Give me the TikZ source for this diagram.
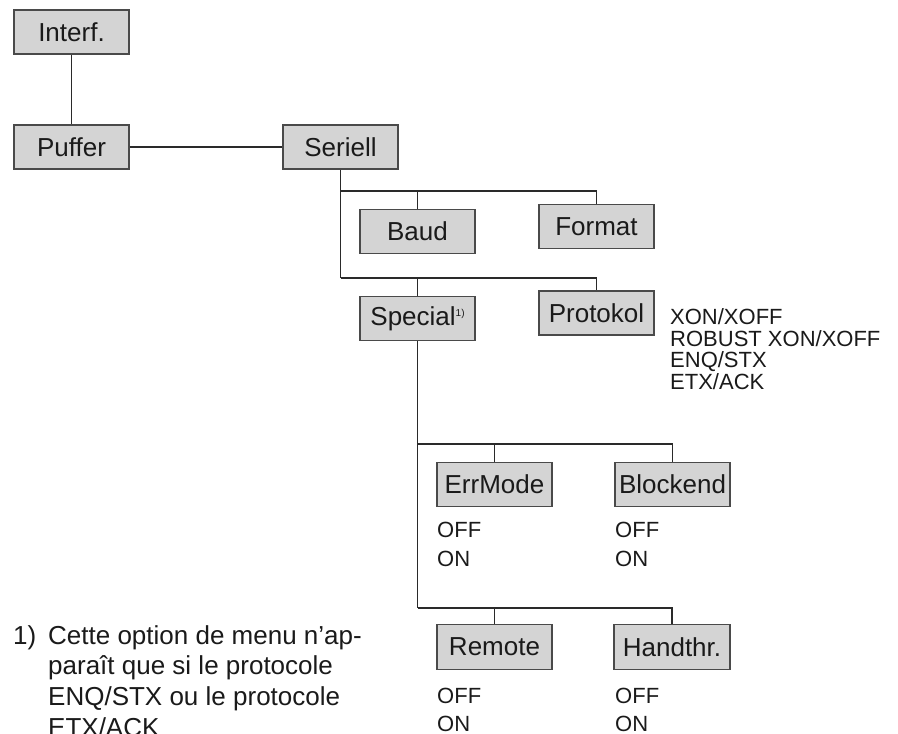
\documentclass[tikz,border=0pt]{standalone}
\usepackage{fontspec}
\setmainfont{Liberation Sans}
\definecolor{boxfill}{HTML}{D4D4D4}
\definecolor{boxline}{HTML}{4A4A4A}
\definecolor{wire}{HTML}{2A2A2A}
\definecolor{ink}{HTML}{1A1A1A}
\newcommand{\boxfont}{\fontsize{26}{30}\selectfont}
\newcommand{\optfont}{\fontsize{22}{24}\selectfont}
\newcommand{\notefont}{\fontsize{26}{30}\selectfont}
\begin{document}
\begin{tikzpicture}[x=1pt,y=-1pt,
  menubox/.style={draw=boxline, fill=boxfill, line width=1.2pt, minimum width=115pt, minimum height=44pt, inner sep=0pt, font=\boxfont, text=ink},
  opt/.style={anchor=base west, inner sep=0pt, font=\optfont, text=ink},
  note/.style={anchor=base west, inner sep=0pt, font=\notefont, text=ink},
  wirestyle/.style={draw=wire, line width=1.2pt}]
\useasboundingbox (0,0) rectangle (898,734);
\clip (0,0) rectangle (898,734);
% boxes
\node[menubox] (interf) at (71.5,32) {Interf.};
\node[menubox] (puffer) at (71.5,147) {Puffer};
\node[menubox] (seriell) at (340.5,147) {Seriell};
\node[menubox] (baud) at (417.5,231.5) {Baud};
\node[menubox] (format) at (596.5,226.5) {Format};
\node[menubox] (special) at (417.5,318.5) {Special\raisebox{9pt}{\fontsize{10}{10}\selectfont 1)}};
\node[menubox] (protokol) at (596.5,313) {Protokol};
\node[menubox] (errmode) at (494.5,484.5) {ErrMode};
\node[menubox] (blockend) at (672.5,484.5) {Blockend};
\node[menubox, minimum height=45pt] (remote) at (494.5,647) {Remote};
\node[menubox, minimum height=45pt, minimum width=116pt] (handthr) at (672,647) {Handthr.};
% junction coordinates
\coordinate (r1) at (340.5,191);
\coordinate (r2) at (340.5,278);
\coordinate (s1) at (417.5,444);
\coordinate (s2) at (417.5,608);
% connectors
\draw[wirestyle] (interf.south) -- (puffer.north);
\draw[wirestyle] (puffer.east) -- (seriell.west);
\draw[wirestyle] (seriell.south) -- (r2);
\draw[wirestyle] (r1) -| (format.north);
\draw[wirestyle] (baud.north |- r1) -- (baud.north);
\draw[wirestyle] (r2) -| (protokol.north);
\draw[wirestyle] (special.north |- r2) -- (special.north);
\draw[wirestyle] (special.south) -- (s2);
\draw[wirestyle] (s1) -| (blockend.north);
\draw[wirestyle] (errmode.north |- s1) -- (errmode.north);
\draw[wirestyle] (s2) -| (handthr.north);
\draw[wirestyle] (remote.north |- s2) -- (remote.north);
% protocol options
\node[opt] (p1) at (670,324.6) {XON/XOFF};
\node[opt] (p2) at (670,346.2) {ROBUST XON/XOFF};
\node[opt] (p3) at (670,367.9) {ENQ/STX};
\node[opt] (p4) at (670,389.5) {ETX/ACK};
% on/off options
\node[opt] (e1) at (437,537) {OFF};
\node[opt] (e2) at (437,566) {ON};
\node[opt] (b1) at (615,537) {OFF};
\node[opt] (b2) at (615,566) {ON};
\node[opt] (m1) at (437,703) {OFF};
\node[opt] (m2) at (437,731) {ON};
\node[opt] (h1) at (615,703) {OFF};
\node[opt] (h2) at (615,731) {ON};
% footnote
\node[note] (fn) at (13,644) {1)};
\node[note] (l1) at (48,644) {Cette option de menu n’ap-};
\node[note] (l2) at (48,674.7) {paraît que si le protocole};
\node[note] (l3) at (48,705.3) {ENQ/STX ou le protocole};
\node[note] (l4) at (48,736) {ETX/ACK};
\end{tikzpicture}
\end{document}
